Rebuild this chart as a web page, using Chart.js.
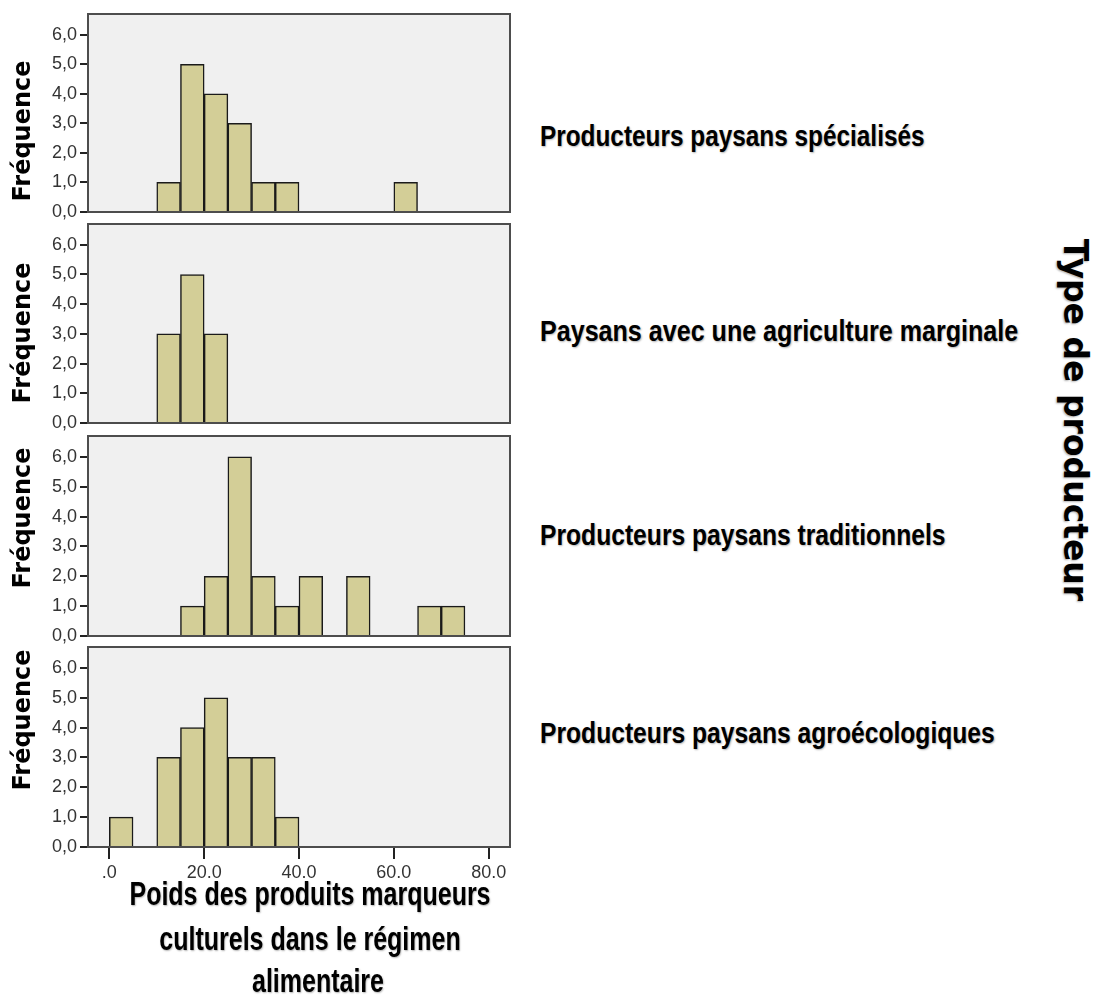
<!DOCTYPE html>
<html>
<head>
<meta charset="utf-8">
<script src="https://cdn.jsdelivr.net/npm/chart.js@4.4.1/dist/chart.umd.min.js"></script>
<style>
  html, body { margin: 0; padding: 0; background: #ffffff; }
  body { width: 1094px; height: 1004px; position: relative; overflow: hidden; }
  canvas { position: absolute; left: 0; }
  .ylab { position: absolute; font-family: "DejaVu Sans", sans-serif; font-weight: bold; font-size: 24px;
          color: #000; white-space: nowrap; transform: translate(-50%, -50%) rotate(-90deg); line-height: 1; }
  .rlab { position: absolute; left: 540px; font-family: "Liberation Sans", sans-serif;
          font-weight: bold; font-size: 29px; line-height: 29px; color: #000; white-space: nowrap;
          transform-origin: 0 50%; text-shadow: 1px 1px 2px rgba(0,0,0,0.3); }
  .xt { position: absolute; left: 310px; font-family: "Liberation Sans", sans-serif;
        font-weight: bold; font-size: 34px; line-height: 34px; color: #000; white-space: nowrap;
        transform: translateX(-50%) scaleX(0.735); text-shadow: 1px 1px 2px rgba(0,0,0,0.3); }
  .type { position: absolute; left: 1075px; top: 420px; font-family: "DejaVu Sans", sans-serif; font-weight: bold;
          font-size: 33px; line-height: 1; color: #000; white-space: nowrap; transform: translate(-50%, -50%) rotate(90deg);
          text-shadow: 1px 1px 2px rgba(0,0,0,0.3); }
</style>
</head>
<body>
<canvas id="c1"></canvas>
<canvas id="c2"></canvas>
<canvas id="c3"></canvas>
<canvas id="c4"></canvas>

<div class="ylab" style="left:22px; top:131px;">Fréquence</div>
<div class="ylab" style="left:22px; top:333px;">Fréquence</div>
<div class="ylab" style="left:22px; top:518px;">Fréquence</div>
<div class="ylab" style="left:22px; top:720px;">Fréquence</div>

<div class="rlab" style="top:122px; transform: scaleX(0.84);">Producteurs paysans spécialisés</div>
<div class="rlab" style="top:317px; transform: scaleX(0.865);">Paysans avec une agriculture marginale</div>
<div class="rlab" style="top:521px; transform: scaleX(0.85);">Producteurs paysans traditionnels</div>
<div class="rlab" style="top:719px; transform: scaleX(0.85);">Producteurs paysans agroécologiques</div>

<div class="xt" style="top:876px;">Poids des produits marqueurs</div>
<div class="xt" style="top:921px;">culturels dans le régimen</div>
<div class="xt" style="top:963px; left:318px;">alimentaire</div>

<div class="type">Type de producteur</div>

<script>
// ---- data ----
const binStarts = [0, 5, 10, 15, 20, 25, 30, 35, 40, 45, 50, 55, 60, 65, 70, 75];
const binWidth = 5;
const specialises      = [0, 0, 1, 5, 4, 3, 1, 1, 0, 0, 0, 0, 1, 0, 0, 0];
const marginale        = [0, 0, 3, 5, 3, 0, 0, 0, 0, 0, 0, 0, 0, 0, 0, 0];
const traditionnels    = [0, 0, 0, 1, 2, 6, 2, 1, 2, 0, 2, 0, 0, 1, 1, 0];
const agroecologiques  = [1, 0, 3, 4, 5, 3, 3, 1, 0, 0, 0, 0, 0, 0, 0, 0];
const yTickValues = [0, 1, 2, 3, 4, 5, 6];
const yTickLabels = ['0,0', '1,0', '2,0', '3,0', '4,0', '5,0', '6,0'];
const xTickValues = [0, 20, 40, 60, 80];
const xTickLabels = ['.0', '20.0', '40.0', '60.0', '80.0'];
const xMin = -4.5, xMax = 84.5, yMax = 6.7;

// ---- style ----
const BAR_FILL = '#d3ce97';
const BAR_EDGE = '#1a1a1a';
const PLOT_BG = '#f0f0f0';
const BOX_EDGE = '#4d4d4d';
const TICK_FONT = { family: '"Liberation Sans", Arial, sans-serif', size: 18 };

const panels = [
  { id: 'c1', counts: specialises,     boxTop: 14,  boxBottom: 212, showX: false },
  { id: 'c2', counts: marginale,       boxTop: 224, boxBottom: 423, showX: false },
  { id: 'c3', counts: traditionnels,   boxTop: 436, boxBottom: 636, showX: false },
  { id: 'c4', counts: agroecologiques, boxTop: 647, boxBottom: 847, showX: true  }
];

const boxPlugin = {
  id: 'plotBox',
  beforeDatasetsDraw(chart) {
    const a = chart.chartArea, ctx = chart.ctx;
    ctx.save();
    ctx.fillStyle = PLOT_BG;
    ctx.fillRect(a.left, a.top, a.right - a.left, a.bottom - a.top);
    ctx.restore();
  },
  afterDatasetsDraw(chart) {
    const a = chart.chartArea, ctx = chart.ctx;
    ctx.save();
    ctx.strokeStyle = BOX_EDGE;
    ctx.lineWidth = 2;
    ctx.strokeRect(a.left, a.top, a.right - a.left, a.bottom - a.top);
    ctx.restore();
  }
};

const PAD_TOP = 20, PAD_BOTTOM = 20, X_AXIS_H = 40, Y_AXIS_W = 88, CANVAS_W = 530, PLOT_RIGHT = 510;

panels.forEach(p => {
  const cv = document.getElementById(p.id);
  const plotH = p.boxBottom - p.boxTop;
  const h = PAD_TOP + plotH + (p.showX ? X_AXIS_H : PAD_BOTTOM);
  cv.width = CANVAS_W; cv.height = h;
  cv.style.width = CANVAS_W + 'px'; cv.style.height = h + 'px';
  cv.style.top = (p.boxTop - PAD_TOP) + 'px';

  const data = binStarts.map((s, i) => ({ x: s + binWidth / 2, y: p.counts[i] > 0 ? p.counts[i] : null }));

  new Chart(cv, {
    type: 'bar',
    data: {
      datasets: [{
        data: data,
        backgroundColor: BAR_FILL,
        borderColor: BAR_EDGE,
        borderWidth: 1.5,
        borderSkipped: 'start',
        barPercentage: 1.0,
        categoryPercentage: 1.0
      }]
    },
    options: {
      responsive: false,
      animation: false,
      layout: { padding: { top: PAD_TOP, bottom: p.showX ? 0 : PAD_BOTTOM, left: 0, right: CANVAS_W - PLOT_RIGHT } },
      plugins: { legend: { display: false }, tooltip: { enabled: false } },
      scales: {
        x: {
          type: 'linear',
          display: p.showX,
          min: xMin, max: xMax,
          offset: false,
          grid: { display: true, drawOnChartArea: false, drawTicks: true, tickLength: 12, color: '#222', lineWidth: 2, offset: false },
          border: { display: false },
          afterBuildTicks(scale) { scale.ticks = xTickValues.map(v => ({ value: v })); },
          afterFit(scale) { if (p.showX) scale.height = X_AXIS_H; },
          ticks: {
            autoSkip: false, maxRotation: 0, padding: 3,
            color: '#333',
            font: TICK_FONT,
            callback(v) { const i = xTickValues.indexOf(v); return i >= 0 ? xTickLabels[i] : ''; }
          }
        },
        y: {
          type: 'linear',
          min: 0, max: yMax,
          grid: { display: true, drawOnChartArea: false, drawTicks: true, tickLength: 8, color: '#222', lineWidth: 2 },
          border: { display: false },
          afterBuildTicks(scale) { scale.ticks = yTickValues.map(v => ({ value: v })); },
          afterFit(scale) { scale.width = Y_AXIS_W; },
          ticks: {
            autoSkip: false, padding: 3,
            color: '#333',
            font: TICK_FONT,
            callback(v) { const i = yTickValues.indexOf(v); return i >= 0 ? yTickLabels[i] : ''; }
          }
        }
      }
    },
    plugins: [boxPlugin]
  });
});
</script>
</body>
</html>
